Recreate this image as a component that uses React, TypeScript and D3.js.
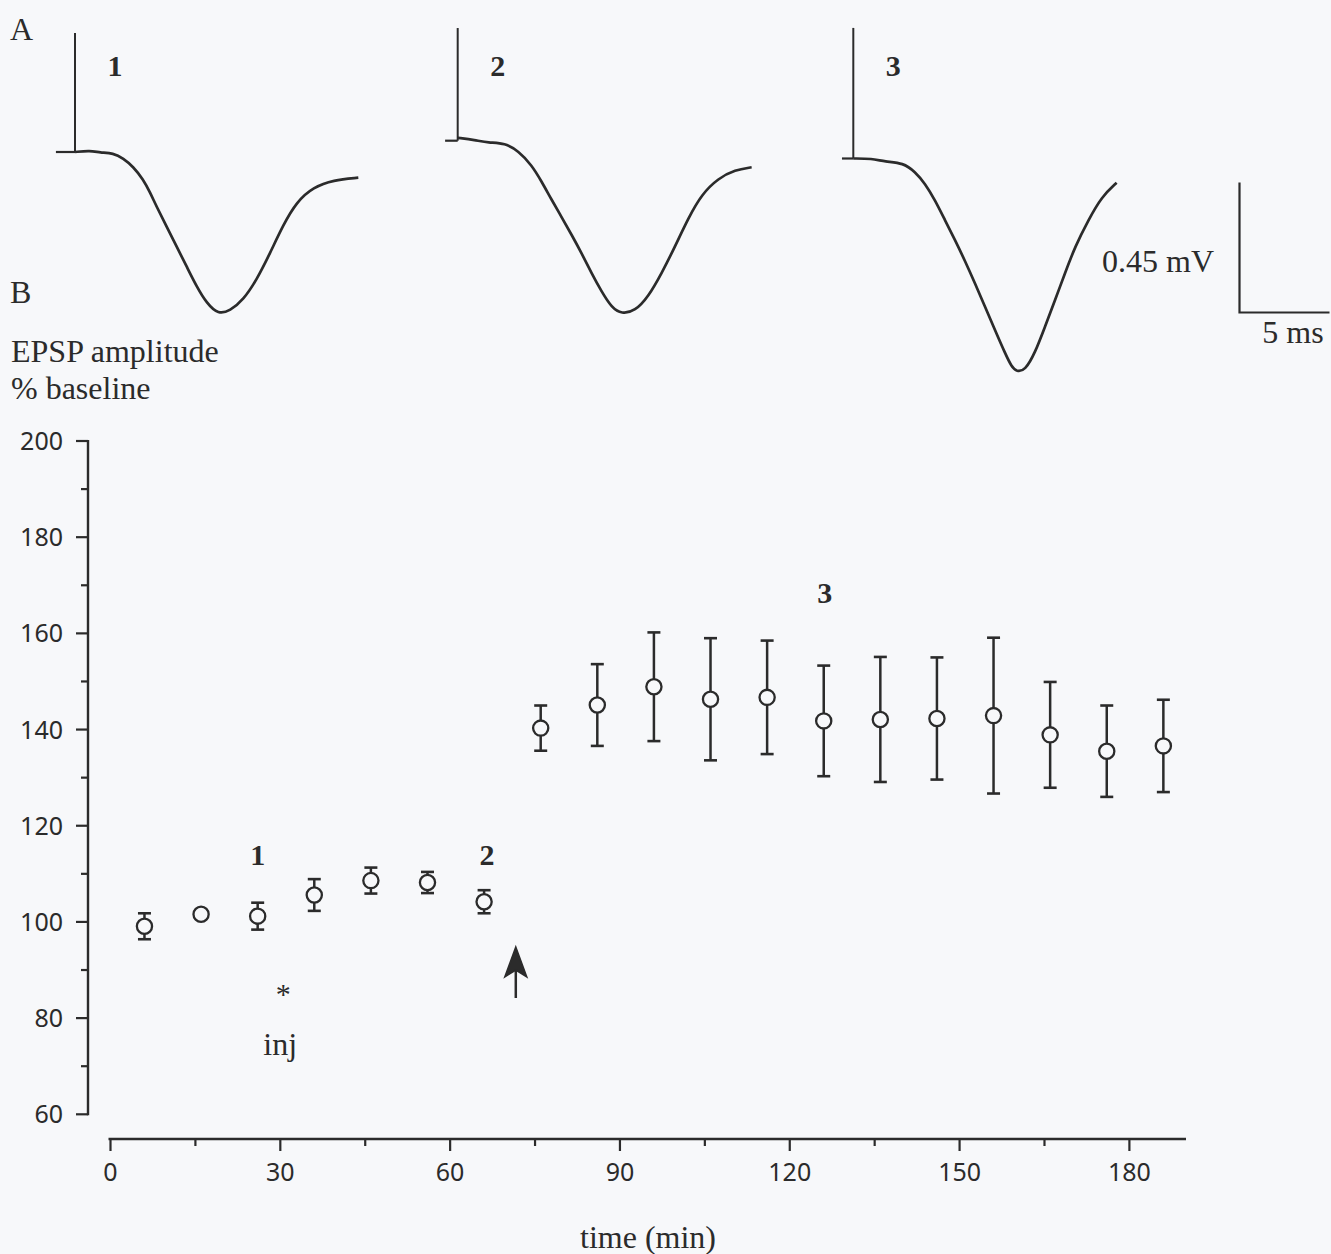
import React from 'react';
import * as d3 from 'd3';

// ---- Panel B data (time in min, EPSP amplitude % baseline, SEM) ----
const times = [6, 16, 26, 36, 46, 56, 66, 76, 86, 96, 106, 116, 126, 136, 146, 156, 166, 176, 186];
const means = [99.1, 101.6, 101.2, 105.6, 108.6, 108.2, 104.2, 140.3, 145.1, 148.9, 146.3, 146.7, 141.8, 142.1, 142.3, 142.9, 138.9, 135.5, 136.6];
const sems = [2.7, 0.8, 2.8, 3.3, 2.7, 2.2, 2.4, 4.7, 8.5, 11.3, 12.7, 11.8, 11.5, 13.0, 12.7, 16.2, 11.0, 9.5, 9.6];

const yMajorTicks = [60, 80, 100, 120, 140, 160, 180, 200];
const yMinorTicks = [70, 90, 110, 130, 150, 170, 190];
const xMajorTicks = [0, 30, 60, 90, 120, 150, 180];
const xMinorTicks = [15, 45, 75, 105, 135, 165];

// ---- Panel A traces (ms after stimulus, mV relative to baseline) ----
const trace1T = [0, 0.83, 1.39, 2.13, 2.68, 3.24, 3.79, 4.17, 4.54, 5.09, 5.65, 6.21, 6.76, 7.32, 7.96, 8.61, 9.35, 10.09, 10.83, 11.57, 12.32, 13.24, 14.35, 15.74];
const trace1V = [0, 0.005, -0.002, -0.004, -0.022, -0.051, -0.095, -0.14, -0.19, -0.258, -0.328, -0.397, -0.466, -0.524, -0.562, -0.55, -0.512, -0.443, -0.351, -0.252, -0.172, -0.122, -0.097, -0.089];
const trace2T = [0, 0.96, 1.7, 2.63, 3.37, 4.11, 4.67, 5.22, 5.78, 6.33, 6.89, 7.44, 8.0, 8.56, 9.11, 9.85, 10.59, 11.33, 12.07, 12.81, 13.56, 14.48, 15.41, 16.33];
const trace2V = [0.01, 0.002, -0.007, -0.008, -0.036, -0.084, -0.142, -0.205, -0.265, -0.326, -0.39, -0.459, -0.523, -0.578, -0.6, -0.59, -0.54, -0.459, -0.367, -0.268, -0.185, -0.13, -0.101, -0.092];
const trace3T = [0, 1.02, 1.76, 2.78, 3.43, 3.98, 4.54, 5.09, 5.65, 6.21, 6.76, 7.32, 7.87, 8.43, 8.8, 9.08, 9.54, 10.09, 10.65, 11.21, 11.76, 12.32, 13.06, 13.8, 14.63];
const trace3V = [0, 0, -0.011, -0.015, -0.046, -0.086, -0.144, -0.213, -0.282, -0.355, -0.432, -0.513, -0.594, -0.674, -0.722, -0.738, -0.734, -0.674, -0.582, -0.49, -0.397, -0.305, -0.213, -0.132, -0.084];
const traceLabels = ['1', '2', '3'];
const artifactTop = [0.412, 0.39, 0.452]; // mV
const preBaseline = [-1.06, -0.7, -0.63]; // ms
const scaleBarMs = 5;
const scaleBarMv = 0.45;
const injTime = 30.5;
const arrowTime = 71.6;

const W = 1331;
const H = 1254;
const BG = '#f7f8fa';
const INK = '#2b2b2b';
const SERIF = '"Liberation Serif", "Times New Roman", serif';
const SANS = '"Noto Sans", "DejaVu Sans", sans-serif';
const SERIF_SIZE = 32;

export default function App() {
  const x = d3.scaleLinear().domain([0, 190]).range([110.5, 1186]);
  const y = d3.scaleLinear().domain([60, 200]).range([1114.3, 441]);
  const xAxisY = 1139;
  const yAxisX = 88;

  const traces = [
    { t: trace1T, v: trace1V, x0: 75, y0: 152 },
    { t: trace2T, v: trace2V, x0: 457.7, y0: 140.7 },
    { t: trace3T, v: trace3V, x0: 853.3, y0: 158.5 },
  ];
  const pxPerMs = 18;
  const pxPerMv = 288.9;

  const traceEls = traces.map((tr, i) => {
    const ts = d3.scaleLinear().domain([0, 1]).range([tr.x0, tr.x0 + pxPerMs]);
    const vs = d3.scaleLinear().domain([0, 1]).range([tr.y0, tr.y0 - pxPerMv]);
    const pts = tr.t.map((t, j) => [t, tr.v[j]] as [number, number]);
    const line = d3
      .line<[number, number]>()
      .x((d) => ts(d[0]))
      .y((d) => vs(d[1]))
      .curve(d3.curveBasis);
    return (
      <g key={i}>
        <line x1={ts(preBaseline[i])} x2={ts(0)} y1={vs(0)} y2={vs(0)} stroke={INK} strokeWidth={2.2} />
        <line x1={ts(0)} x2={ts(0)} y1={vs(0)} y2={vs(artifactTop[i])} stroke={INK} strokeWidth={2} />
        <path d={line(pts) || ''} fill="none" stroke={INK} strokeWidth={2.7} strokeLinejoin="round" />
        <text
          x={ts(0) + 40}
          y={76}
          fontFamily={SERIF}
          fontWeight="bold"
          fontSize={30}
          fill={INK}
          textAnchor="middle"
        >
          {traceLabels[i]}
        </text>
      </g>
    );
  });

  // scale bar
  const sbX0 = 1239.5;
  const sbY0 = 312.5;
  const sbT = d3.scaleLinear().domain([0, 1]).range([sbX0, sbX0 + pxPerMs]);
  const sbV = d3.scaleLinear().domain([0, 1]).range([sbY0, sbY0 - pxPerMv]);

  const ax = x(arrowTime);

  return (
    <svg
      width={W}
      height={H}
      viewBox={`0 0 ${W} ${H}`}
      style={{ position: 'absolute', left: 0, top: 0, display: 'block', background: BG }}
    >
      <rect x={0} y={0} width={W} height={H} fill={BG} />

      {/* Panel labels */}
      <text x={10} y={40} fontFamily={SERIF} fontSize={SERIF_SIZE} fill={INK}>A</text>
      <text x={10} y={303} fontFamily={SERIF} fontSize={SERIF_SIZE} fill={INK}>B</text>

      {/* Traces */}
      {traceEls}

      {/* Scale bar */}
      <path
        d={`M${sbT(0)},${sbV(scaleBarMv)} L${sbT(0)},${sbV(0)} L${sbT(scaleBarMs)},${sbV(0)}`}
        fill="none"
        stroke={INK}
        strokeWidth={2.2}
      />
      <text x={1214} y={272} fontFamily={SERIF} fontSize={SERIF_SIZE} fill={INK} textAnchor="end">0.45 mV</text>
      <text x={1293} y={343} fontFamily={SERIF} fontSize={SERIF_SIZE} fill={INK} textAnchor="middle">5 ms</text>

      {/* Y label */}
      <text x={11} y={362} fontFamily={SERIF} fontSize={SERIF_SIZE} fill={INK}>EPSP amplitude</text>
      <text x={11} y={399} fontFamily={SERIF} fontSize={SERIF_SIZE} fill={INK}>% baseline</text>

      {/* Y axis */}
      <line x1={yAxisX} x2={yAxisX} y1={y(200) - 1} y2={y(60) + 1} stroke={INK} strokeWidth={2.4} />
      {yMajorTicks.map((v) => (
        <g key={'ym' + v}>
          <line x1={yAxisX - 12} x2={yAxisX} y1={y(v)} y2={y(v)} stroke={INK} strokeWidth={2.2} />
          <text
            x={63}
            y={y(v)}
            dy="0.36em"
            fontFamily={SANS}
            fontSize={25}
            fill={INK}
            textAnchor="end"
          >
            {v}
          </text>
        </g>
      ))}
      {yMinorTicks.map((v) => (
        <line key={'yn' + v} x1={yAxisX - 7} x2={yAxisX} y1={y(v)} y2={y(v)} stroke={INK} strokeWidth={2.2} />
      ))}

      {/* X axis */}
      <line x1={x(0) - 2} x2={x(190)} y1={xAxisY} y2={xAxisY} stroke={INK} strokeWidth={2.4} />
      {xMajorTicks.map((v) => (
        <g key={'xm' + v}>
          <line x1={x(v)} x2={x(v)} y1={xAxisY} y2={xAxisY + 12} stroke={INK} strokeWidth={2.2} />
          <text x={x(v)} y={1181} fontFamily={SANS} fontSize={25} fill={INK} textAnchor="middle">
            {v}
          </text>
        </g>
      ))}
      {xMinorTicks.map((v) => (
        <line key={'xn' + v} x1={x(v)} x2={x(v)} y1={xAxisY} y2={xAxisY + 7} stroke={INK} strokeWidth={2.2} />
      ))}
      <text x={648} y={1248} fontFamily={SERIF} fontSize={SERIF_SIZE} fill={INK} textAnchor="middle">time (min)</text>

      {/* Error bars and points */}
      {times.map((t, i) => {
        const cx = x(t);
        const top = y(means[i] + sems[i]);
        const bot = y(means[i] - sems[i]);
        return (
          <g key={'p' + i}>
            <line x1={cx} x2={cx} y1={top} y2={bot} stroke={INK} strokeWidth={2.5} />
            <line x1={cx - 6.5} x2={cx + 6.5} y1={top} y2={top} stroke={INK} strokeWidth={2.6} />
            <line x1={cx - 6.5} x2={cx + 6.5} y1={bot} y2={bot} stroke={INK} strokeWidth={2.6} />
            <circle cx={cx} cy={y(means[i])} r={7.6} fill={BG} stroke={INK} strokeWidth={2.3} />
          </g>
        );
      })}

      {/* Annotations */}
      <text x={x(times[2])} y={865} fontFamily={SERIF} fontWeight="bold" fontSize={30} fill={INK} textAnchor="middle">1</text>
      <text x={x(times[6]) + 3} y={865} fontFamily={SERIF} fontWeight="bold" fontSize={30} fill={INK} textAnchor="middle">2</text>
      <text x={x(times[12]) + 1} y={603} fontFamily={SERIF} fontWeight="bold" fontSize={30} fill={INK} textAnchor="middle">3</text>

      <text x={x(injTime)} y={1004} fontFamily={SERIF} fontSize={30} fill={INK} textAnchor="middle">*</text>
      <text x={x(injTime) - 3} y={1055} fontFamily={SERIF} fontSize={SERIF_SIZE} fill={INK} textAnchor="middle">inj</text>

      {/* Arrow */}
      <line x1={ax} x2={ax} y1={998} y2={965} stroke={INK} strokeWidth={2.5} />
      <path
        d={`M${ax},${947} L${ax + 11},${977} L${ax},${970} L${ax - 11},${977} Z`}
        fill={INK}
        stroke={INK}
        strokeWidth={1.5}
        strokeLinejoin="miter"
      />
    </svg>
  );
}
